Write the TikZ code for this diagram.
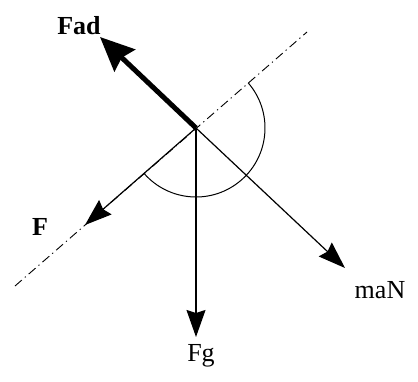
\documentclass[tikz,border=0pt]{standalone}
\usepackage{fontspec}
\setmainfont{Liberation Serif}
\usetikzlibrary{arrows.meta}

\begin{document}
\begin{tikzpicture}[
  x=1pt,y=1pt,
  font=\fontsize{26}{30}\selectfont,
  force/.style={line width=1.2pt,-{Stealth[length=27pt,width=19pt,inset=3pt]}},
  bigforce/.style={line width=5pt,-{Stealth[length=34pt,width=30pt,inset=4pt]}},
  slope/.style={line width=0.9pt,dash pattern=on 9pt off 4pt on 1.2pt off 4pt},
  lbl/.style={inner sep=0pt},
  blbl/.style={inner sep=0pt,font=\fontsize{26}{30}\selectfont\bfseries}
]
\useasboundingbox (0,0) rectangle (418,381);

% point of application and end points
\coordinate (O) at (196,253);
\coordinate (slopeTop) at (307,349);
\coordinate (slopeBot) at (15,95);
\coordinate (fadTip) at (100,344);
\coordinate (fTip) at (85,156);
\coordinate (fgTip) at (196,44);
\coordinate (manTip) at (345,113);

% inclined plane
\draw[slope] (slopeBot) -- (slopeTop);
\draw[line width=1pt] (O) ++(41:69) arc[start angle=41,end angle=-139,radius=69];

% forces
\draw[bigforce] (O) -- (fadTip);
\draw[force] (O) -- (fTip);
\draw[force] (O) -- (fgTip);
\draw[force] (O) -- (manTip);

% labels
\node[blbl] (fadLbl) at (79,355) {Fad};
\node[blbl] (fLbl) at (40,154) {F};
\node[lbl] (fgLbl) at (201,25) {Fg};
\node[lbl] (manLbl) at (380,91) {maN};
\end{tikzpicture}
\end{document}
